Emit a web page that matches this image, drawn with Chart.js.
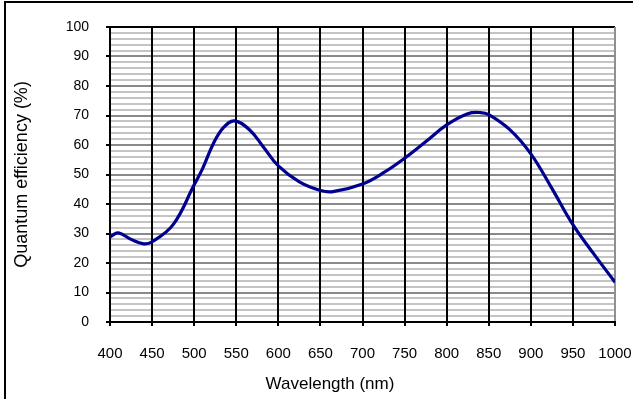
<!DOCTYPE html>
<html>
<head>
<meta charset="utf-8">
<script src="https://cdn.jsdelivr.net/npm/chart.js@4"></script>
<style>
  body { margin: 0; background: #fff; }
</style>
</head>
<body>
<canvas id="qeChart" width="633" height="399"></canvas>
<script>
// wavelength (nm) and quantum efficiency (%)
const wavelengths = [400, 410, 425, 440, 450, 475, 500, 510, 523, 535, 548, 566, 582, 600, 625, 650, 665, 700, 725, 750, 775, 800, 825, 840, 850, 875, 900, 925, 950, 975, 1000];
const efficiency  = [28.9, 30.2, 28.0, 26.5, 27.2, 33.0, 46.5, 52.0, 60.6, 66.0, 68.2, 65.1, 59.4, 52.9, 47.5, 44.6, 44.2, 46.8, 50.6, 55.5, 61.1, 66.8, 70.6, 71.0, 70.3, 65.2, 57.0, 45.3, 33.0, 23.0, 13.5];

const xTitle = 'Wavelength (nm)';
const yTitle = 'Quantum efficiency (%)';

const fontFamily = 'Arial, "Liberation Sans", sans-serif';

const puntos = wavelengths.map((w, i) => ({ x: w, y: efficiency[i] }));

const marco = {
    id: 'marco',
    beforeDraw(chart) {
        const ctx = chart.ctx;
        ctx.save();
        ctx.fillStyle = '#fff';
        ctx.fillRect(0, 0, chart.width, chart.height);
        ctx.strokeStyle = '#000';
        ctx.lineWidth = 2;
        ctx.strokeRect(5, 2, 700, 500);
        ctx.restore();
    },
    afterDraw(chart) {
        // x title sits a bit left of the plot centre in the original
        const ctx = chart.ctx;
        ctx.save();
        ctx.fillStyle = '#000';
        ctx.font = '17px ' + fontFamily;
        ctx.textAlign = 'center';
        ctx.textBaseline = 'middle';
        ctx.fillText(xTitle, 330, 384);
        ctx.restore();
    }
};

const ctx = document.getElementById('qeChart').getContext('2d');
new Chart(ctx, {
    type: 'scatter',
    data: {
        datasets: [{
            data: puntos,
            showLine: true,
            borderColor: '#000090',
            borderWidth: 3.2,
            pointRadius: 0,
            tension: 0.4,
            fill: false
        }]
    },
    options: {
        responsive: false,
        animation: false,
        layout: { padding: { left: 0, top: 27, right: 18, bottom: 0 } },
        plugins: { legend: { display: false }, tooltip: { enabled: false } },
        scales: {
            x: {
                type: 'linear',
                min: 400,
                max: 1000,
                afterFit: (scale) => {
                    scale.height = 77;
                    scale.paddingLeft = 0;
                    scale.paddingRight = 0;
                },
                ticks: {
                    stepSize: 50,
                    color: '#000',
                    padding: 19,
                    maxRotation: 0,
                    font: { family: fontFamily, size: 15 },
                    callback: (v) => String(v)
                },
                grid: {
                    color: (c) => c.tick && c.tick.value === 1000 ? '#909090' : '#000',
                    lineWidth: 2,
                    tickLength: 4,
                    tickColor: '#000'
                },
                border: { color: '#000', width: 2 }
            },
            y: {
                min: 0,
                max: 100,
                afterFit: (scale) => {
                    scale.width = 110;
                    scale.paddingTop = 0;
                    scale.paddingBottom = 0;
                },
                ticks: {
                    stepSize: 2,
                    color: '#000',
                    padding: 17,
                    autoSkip: false,
                    font: { family: fontFamily, size: 14 },
                    callback: (v) => v % 10 === 0 ? v : ''
                },
                grid: {
                    z: -2, // grey lines go under the black vertical ones
                    color: (c) => {
                        const v = c.tick ? c.tick.value : 0;
                        if (v === 100) return '#000';
                        return v % 10 === 0 ? '#8a8a8a' : '#c4c4c4';
                    },
                    lineWidth: 2,
                    tickLength: 4,
                    tickColor: (c) => c.tick && c.tick.value % 10 === 0 ? '#000' : 'rgba(0,0,0,0)'
                },
                border: { color: '#000', width: 2 },
                title: {
                    display: true,
                    text: yTitle,
                    color: '#000',
                    font: { family: fontFamily, size: 18 },
                    padding: { top: 11, bottom: 0 }
                }
            }
        }
    },
    plugins: [marco]
});
</script>
</body>
</html>
